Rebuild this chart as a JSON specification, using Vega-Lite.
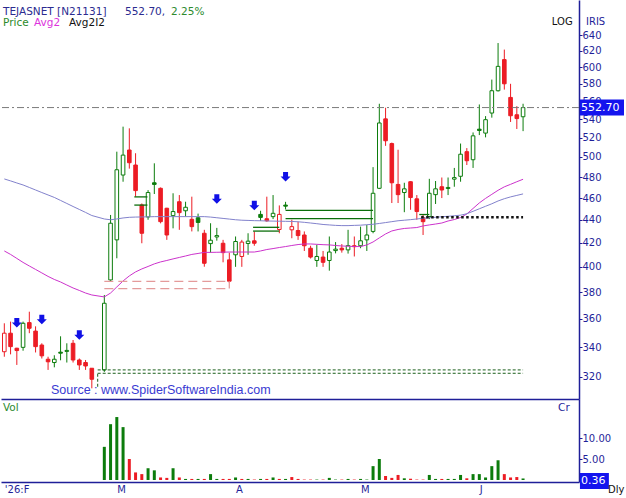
{
  "$schema": "https://vega.github.io/schema/vega-lite/v6.json",
  "padding": 0,
  "spacing": 0,
  "bounds": "flush",
  "config": {
    "view": {"stroke": null},
    "axis": {"grid": false, "domainColor": "#1f1f99", "tickColor": "#1f1f99", "labelColor": "#1f1f99", "labelFont": "DejaVu Sans", "labelFontSize": 10, "domainWidth": 1.5},
    "text": {"font": "DejaVu Sans"}
  },
  "datasets": {
    "candles": [
      {"i": 0, "o": 336.8, "h": 356.8, "l": 333.4, "c": 349.7, "v": 0, "m1": 413.2, "m2": 478.2},
      {"i": 1, "o": 349.7, "h": 358.0, "l": 335.0, "c": 340.3, "v": 0, "m1": 410.3, "m2": 476.3},
      {"i": 2, "o": 339.2, "h": 339.5, "l": 327.9, "c": 337.6, "v": 0, "m1": 407.0, "m2": 474.3},
      {"i": 3, "o": 339.8, "h": 358.0, "l": 337.5, "c": 356.8, "v": 0, "m1": 403.7, "m2": 472.4},
      {"i": 4, "o": 357.3, "h": 365.3, "l": 349.7, "c": 353.2, "v": 0, "m1": 400.8, "m2": 470.0},
      {"i": 5, "o": 351.2, "h": 354.6, "l": 336.3, "c": 340.3, "v": 0, "m1": 398.0, "m2": 467.6},
      {"i": 6, "o": 341.4, "h": 342.6, "l": 332.2, "c": 334.0, "v": 0, "m1": 395.2, "m2": 465.2},
      {"i": 7, "o": 331.7, "h": 333.4, "l": 324.6, "c": 330.0, "v": 0, "m1": 392.4, "m2": 462.9},
      {"i": 8, "o": 329.5, "h": 334.4, "l": 326.3, "c": 331.7, "v": 0, "m1": 390.0, "m2": 460.6},
      {"i": 9, "o": 336.5, "h": 347.5, "l": 331.0, "c": 335.8, "v": 0, "m1": 388.0, "m2": 457.8},
      {"i": 10, "o": 337.0, "h": 342.6, "l": 329.5, "c": 337.7, "v": 0, "m1": 385.6, "m2": 455.0},
      {"i": 11, "o": 342.6, "h": 344.9, "l": 329.5, "c": 331.2, "v": 0, "m1": 383.3, "m2": 452.2},
      {"i": 12, "o": 331.2, "h": 332.2, "l": 324.6, "c": 327.9, "v": 0, "m1": 381.4, "m2": 449.5},
      {"i": 13, "o": 329.5, "h": 331.2, "l": 324.6, "c": 327.2, "v": 0, "m1": 379.4, "m2": 446.8},
      {"i": 14, "o": 325.7, "h": 325.7, "l": 312.7, "c": 318.5, "v": 0, "m1": 377.9, "m2": 444.0},
      {"i": 16, "o": 324.6, "h": 377.9, "l": 323.3, "c": 371.6, "v": 7.9, "m1": 376.4, "m2": 440.9},
      {"i": 17, "o": 389.6, "h": 444.5, "l": 388.6, "c": 437.1, "v": 13.3, "m1": 379.4, "m2": 440.2},
      {"i": 18, "o": 422.6, "h": 505.4, "l": 407.1, "c": 487.2, "v": 15.0, "m1": 384.1, "m2": 440.9},
      {"i": 19, "o": 482.0, "h": 531.7, "l": 475.5, "c": 501.9, "v": 12.6, "m1": 388.8, "m2": 441.8},
      {"i": 20, "o": 507.1, "h": 529.9, "l": 488.3, "c": 494.2, "v": 5.0, "m1": 392.8, "m2": 442.4},
      {"i": 21, "o": 491.9, "h": 503.8, "l": 461.3, "c": 467.0, "v": 1.8, "m1": 396.0, "m2": 442.6},
      {"i": 22, "o": 453.6, "h": 455.0, "l": 419.7, "c": 428.3, "v": 1.4, "m1": 398.4, "m2": 442.7},
      {"i": 23, "o": 442.7, "h": 467.5, "l": 440.2, "c": 465.2, "v": 2.8, "m1": 400.4, "m2": 442.8},
      {"i": 24, "o": 474.5, "h": 493.6, "l": 463.8, "c": 472.9, "v": 2.3, "m1": 402.5, "m2": 443.0},
      {"i": 25, "o": 469.2, "h": 470.0, "l": 437.0, "c": 438.5, "v": 0.6, "m1": 404.1, "m2": 443.0},
      {"i": 26, "o": 450.6, "h": 451.0, "l": 422.6, "c": 426.8, "v": 0.5, "m1": 405.3, "m2": 443.0},
      {"i": 27, "o": 443.9, "h": 464.5, "l": 432.6, "c": 447.6, "v": 2.8, "m1": 406.6, "m2": 443.0},
      {"i": 28, "o": 456.6, "h": 462.8, "l": 431.3, "c": 446.6, "v": 0.6, "m1": 407.8, "m2": 443.0},
      {"i": 29, "o": 448.3, "h": 456.6, "l": 443.1, "c": 451.5, "v": 0.25, "m1": 409.0, "m2": 443.0},
      {"i": 30, "o": 440.6, "h": 461.3, "l": 429.9, "c": 434.1, "v": 0.25, "m1": 410.3, "m2": 443.0},
      {"i": 31, "o": 442.0, "h": 445.7, "l": 429.9, "c": 437.8, "v": 0.25, "m1": 411.1, "m2": 443.0},
      {"i": 32, "o": 428.3, "h": 431.3, "l": 400.2, "c": 403.0, "v": 0.25, "m1": 412.0, "m2": 443.0},
      {"i": 33, "o": 419.4, "h": 437.1, "l": 411.8, "c": 422.3, "v": 1.4, "m1": 412.0, "m2": 442.6},
      {"i": 34, "o": 425.1, "h": 433.0, "l": 421.9, "c": 426.3, "v": 0.25, "m1": 412.1, "m2": 442.0},
      {"i": 35, "o": 419.7, "h": 422.6, "l": 403.8, "c": 411.8, "v": 0.25, "m1": 412.2, "m2": 441.4},
      {"i": 36, "o": 405.8, "h": 411.8, "l": 387.3, "c": 388.6, "v": 0.25, "m1": 412.3, "m2": 440.8},
      {"i": 37, "o": 410.0, "h": 425.5, "l": 400.1, "c": 421.2, "v": 0.6, "m1": 412.3, "m2": 440.2},
      {"i": 38, "o": 408.6, "h": 422.6, "l": 400.1, "c": 420.7, "v": 0.25, "m1": 412.3, "m2": 439.8},
      {"i": 39, "o": 419.5, "h": 428.3, "l": 410.0, "c": 421.5, "v": 0.25, "m1": 412.3, "m2": 439.6},
      {"i": 40, "o": 421.8, "h": 429.9, "l": 417.6, "c": 419.7, "v": 0.1, "m1": 412.3, "m2": 439.4},
      {"i": 41, "o": 445.0, "h": 448.3, "l": 439.3, "c": 442.3, "v": 0.25, "m1": 413.2, "m2": 439.3},
      {"i": 42, "o": 441.1, "h": 461.3, "l": 438.4, "c": 439.3, "v": 0.25, "m1": 414.4, "m2": 439.1},
      {"i": 43, "o": 443.0, "h": 462.8, "l": 440.8, "c": 446.0, "v": 0.6, "m1": 415.2, "m2": 439.0},
      {"i": 44, "o": 431.6, "h": 453.2, "l": 428.3, "c": 445.0, "v": 0.25, "m1": 416.1, "m2": 438.9},
      {"i": 45, "o": 453.5, "h": 456.5, "l": 449.5, "c": 452.5, "v": 0.25, "m1": 416.9, "m2": 438.8},
      {"i": 46, "o": 431.3, "h": 440.2, "l": 424.0, "c": 434.1, "v": 0.7, "m1": 417.8, "m2": 438.7},
      {"i": 47, "o": 430.7, "h": 438.5, "l": 422.6, "c": 426.3, "v": 0.25, "m1": 418.6, "m2": 438.4},
      {"i": 48, "o": 426.8, "h": 429.9, "l": 413.2, "c": 417.6, "v": 0.1, "m1": 419.1, "m2": 437.9},
      {"i": 49, "o": 415.5, "h": 417.6, "l": 406.9, "c": 408.1, "v": 0.1, "m1": 419.1, "m2": 437.3},
      {"i": 50, "o": 405.3, "h": 418.5, "l": 400.1, "c": 408.6, "v": 0.1, "m1": 418.8, "m2": 436.7},
      {"i": 51, "o": 408.1, "h": 413.2, "l": 400.1, "c": 403.8, "v": 0.1, "m1": 418.5, "m2": 436.0},
      {"i": 52, "o": 405.3, "h": 425.5, "l": 397.0, "c": 412.3, "v": 0.5, "m1": 418.3, "m2": 435.6},
      {"i": 53, "o": 413.5, "h": 420.7, "l": 411.2, "c": 414.7, "v": 0.1, "m1": 417.8, "m2": 435.2},
      {"i": 54, "o": 415.5, "h": 419.0, "l": 411.8, "c": 414.1, "v": 0.1, "m1": 417.4, "m2": 435.0},
      {"i": 55, "o": 414.1, "h": 431.3, "l": 411.0, "c": 417.7, "v": 0.25, "m1": 417.2, "m2": 435.0},
      {"i": 56, "o": 417.6, "h": 425.5, "l": 408.6, "c": 416.8, "v": 0.1, "m1": 416.9, "m2": 435.2},
      {"i": 57, "o": 417.6, "h": 434.1, "l": 415.5, "c": 421.8, "v": 0.25, "m1": 416.9, "m2": 435.4},
      {"i": 58, "o": 422.6, "h": 435.6, "l": 413.2, "c": 426.8, "v": 0.1, "m1": 418.3, "m2": 435.8},
      {"i": 59, "o": 429.9, "h": 489.8, "l": 428.3, "c": 464.5, "v": 3.3, "m1": 420.8, "m2": 436.2},
      {"i": 60, "o": 469.2, "h": 557.0, "l": 468.5, "c": 535.7, "v": 5.0, "m1": 424.3, "m2": 436.9},
      {"i": 61, "o": 540.2, "h": 552.5, "l": 511.4, "c": 516.7, "v": 0.95, "m1": 427.7, "m2": 437.7},
      {"i": 62, "o": 513.8, "h": 514.8, "l": 455.4, "c": 474.5, "v": 0.5, "m1": 430.3, "m2": 438.5},
      {"i": 63, "o": 472.9, "h": 507.4, "l": 455.4, "c": 463.2, "v": 1.2, "m1": 431.6, "m2": 439.3},
      {"i": 64, "o": 465.2, "h": 474.5, "l": 447.0, "c": 468.7, "v": 0.4, "m1": 432.5, "m2": 439.8},
      {"i": 65, "o": 475.5, "h": 476.0, "l": 449.2, "c": 460.5, "v": 0.3, "m1": 432.9, "m2": 440.3},
      {"i": 66, "o": 459.3, "h": 462.8, "l": 440.2, "c": 447.6, "v": 0.1, "m1": 433.3, "m2": 440.9},
      {"i": 67, "o": 442.0, "h": 445.0, "l": 426.8, "c": 438.5, "v": 0.1, "m1": 434.7, "m2": 441.5},
      {"i": 68, "o": 443.1, "h": 478.3, "l": 440.8, "c": 464.5, "v": 1.2, "m1": 435.6, "m2": 442.0},
      {"i": 69, "o": 463.2, "h": 476.2, "l": 454.5, "c": 468.7, "v": 0.25, "m1": 436.4, "m2": 442.4},
      {"i": 70, "o": 470.7, "h": 479.6, "l": 460.0, "c": 467.6, "v": 0.25, "m1": 437.3, "m2": 442.9},
      {"i": 71, "o": 469.0, "h": 479.6, "l": 462.8, "c": 470.0, "v": 0.25, "m1": 439.1, "m2": 443.3},
      {"i": 72, "o": 478.0, "h": 489.0, "l": 470.7, "c": 479.5, "v": 0.25, "m1": 440.4, "m2": 443.8},
      {"i": 73, "o": 480.8, "h": 513.8, "l": 475.5, "c": 502.8, "v": 1.2, "m1": 442.2, "m2": 444.3},
      {"i": 74, "o": 505.4, "h": 509.1, "l": 491.9, "c": 496.2, "v": 0.4, "m1": 445.4, "m2": 445.6},
      {"i": 75, "o": 497.2, "h": 525.5, "l": 489.0, "c": 521.9, "v": 1.4, "m1": 450.4, "m2": 447.8},
      {"i": 76, "o": 529.0, "h": 556.2, "l": 522.7, "c": 527.6, "v": 1.4, "m1": 455.5, "m2": 450.1},
      {"i": 77, "o": 524.8, "h": 543.2, "l": 520.3, "c": 539.3, "v": 0.6, "m1": 459.7, "m2": 452.4},
      {"i": 78, "o": 546.6, "h": 585.0, "l": 541.5, "c": 571.9, "v": 3.3, "m1": 463.5, "m2": 454.7},
      {"i": 79, "o": 571.9, "h": 630.0, "l": 571.0, "c": 600.9, "v": 4.7, "m1": 467.3, "m2": 457.3},
      {"i": 80, "o": 609.2, "h": 621.7, "l": 573.2, "c": 580.0, "v": 1.4, "m1": 470.6, "m2": 459.4},
      {"i": 81, "o": 564.2, "h": 580.0, "l": 536.8, "c": 543.6, "v": 0.6, "m1": 473.0, "m2": 461.1},
      {"i": 82, "o": 544.7, "h": 554.3, "l": 529.2, "c": 540.5, "v": 0.7, "m1": 475.5, "m2": 462.5},
      {"i": 83, "o": 542.5, "h": 557.0, "l": 526.9, "c": 552.7, "v": 0.36, "m1": 477.9, "m2": 463.9}
    ],
    "signals": [
      {"i": 2, "p": 357.0},
      {"i": 6, "p": 359.3},
      {"i": 12, "p": 348.3},
      {"i": 34, "p": 459.0},
      {"i": 40, "p": 452.9},
      {"i": 45, "p": 480.0}
    ],
    "greenBox": [
      {"i1": 20.8, "i2": 22.9, "p1": 461.1, "p2": 461.1},
      {"i1": 20.8, "i2": 22.9, "p1": 453.5, "p2": 453.5},
      {"i1": 39.8, "i2": 44, "p1": 433.5, "p2": 433.5},
      {"i1": 39.8, "i2": 44, "p1": 430.2, "p2": 430.2},
      {"i1": 45, "i2": 59, "p1": 448.6, "p2": 448.6},
      {"i1": 45, "i2": 59, "p1": 441.2, "p2": 441.2},
      {"i1": 66.4, "i2": 68, "p1": 444.9, "p2": 444.9}
    ],
    "pinkDash": [
      {"i1": 16, "i2": 36, "p1": 388.5, "p2": 388.5},
      {"i1": 16, "i2": 36, "p1": 382.8, "p2": 382.8},
      {"i1": 36, "i2": 36, "p1": 382.8, "p2": 388.5}
    ],
    "greenDash": [
      {"i1": 14.94, "i2": 83, "p1": 324.6, "p2": 324.6},
      {"i1": 14.94, "i2": 83, "p1": 322.4, "p2": 322.4},
      {"i1": 14.94, "i2": 14.94, "p1": 313.7, "p2": 322.4}
    ],
    "blackDot": [
      {"i1": 66.7, "i2": 83, "p1": 442.4, "p2": 442.4}
    ]
  },
  "vconcat": [
    {
      "width": 578,
      "height": 399,
      "data": {"name": "candles"},
      "layer": [
        {
          "transform": [{"window": [{"op": "lag", "field": "c", "as": "pc"}], "sort": [{"field": "i", "order": "ascending"}]}],
          "mark": {"type": "rule", "strokeWidth": 1},
          "encoding": {
            "x": {"field": "i", "type": "quantitative", "title": null, "scale": {"domain": [-0.53, 91.95], "nice": false, "zero": false, "padding": 0}, "axis": {"orient": "bottom", "labels": false, "ticks": false, "title": null}},
            "y": {"field": "l", "type": "quantitative", "title": null, "scale": {"type": "log", "domain": [306.0, 687.5], "nice": false, "zero": false, "padding": 0}, "axis": {"orient": "right", "values": [320, 340, 360, 380, 400, 420, 440, 460, 480, 500, 520, 540, 560, 580, 600, 620, 640], "format": "d", "tickSize": 3, "labelPadding": 0, "labelOverlap": false, "labelFlush": false, "title": null}},
            "y2": {"field": "h"},
            "stroke": {"condition": {"test": "datum.pc != null && datum.c >= datum.pc", "value": "#0c7c0c"}, "value": "#ec1c24"}
          }
        },
        {
          "transform": [{"window": [{"op": "lag", "field": "c", "as": "pc"}], "sort": [{"field": "i", "order": "ascending"}]}],
          "mark": {"type": "bar", "width": 3.6, "strokeWidth": 1},
          "encoding": {
            "x": {"field": "i", "type": "quantitative", "title": null},
            "y": {"field": "o", "type": "quantitative", "title": null},
            "y2": {"field": "c"},
            "stroke": {"condition": {"test": "datum.pc != null && datum.c >= datum.pc", "value": "#0c7c0c"}, "value": "#ec1c24"},
            "fill": {"condition": [{"test": "datum.c > datum.o", "value": "#ffffff"}, {"test": "datum.pc != null && datum.c >= datum.pc", "value": "#0c7c0c"}], "value": "#ec1c24"}
          }
        },
        {
          "mark": {"type": "line", "color": "#cc33cc", "strokeWidth": 1},
          "encoding": {
            "x": {"field": "i", "type": "quantitative", "title": null},
            "y": {"field": "m1", "type": "quantitative", "title": null}
          }
        },
        {
          "mark": {"type": "line", "color": "#8282cc", "strokeWidth": 1},
          "encoding": {
            "x": {"field": "i", "type": "quantitative", "title": null},
            "y": {"field": "m2", "type": "quantitative", "title": null}
          }
        },
        {
          "data": {"name": "greenBox"},
          "mark": {"type": "rule", "color": "#0b6e0b", "strokeWidth": 1.3},
          "encoding": {
            "x": {"field": "i1", "type": "quantitative", "title": null},
            "x2": {"field": "i2"},
            "y": {"field": "p1", "type": "quantitative", "title": null},
            "y2": {"field": "p2"}
          }
        },
        {
          "data": {"name": "pinkDash"},
          "mark": {"type": "rule", "color": "#e49a9a", "strokeWidth": 1.3, "strokeDash": [9, 5]},
          "encoding": {
            "x": {"field": "i1", "type": "quantitative", "title": null},
            "x2": {"field": "i2"},
            "y": {"field": "p1", "type": "quantitative", "title": null},
            "y2": {"field": "p2"}
          }
        },
        {
          "data": {"name": "greenDash"},
          "mark": {"type": "rule", "color": "#1a5e1a", "strokeWidth": 1, "strokeDash": [3, 2]},
          "encoding": {
            "x": {"field": "i1", "type": "quantitative", "title": null},
            "x2": {"field": "i2"},
            "y": {"field": "p1", "type": "quantitative", "title": null},
            "y2": {"field": "p2"}
          }
        },
        {
          "data": {"name": "blackDot"},
          "mark": {"type": "rule", "color": "#111111", "strokeWidth": 2.5, "strokeDash": [2.5, 2.5]},
          "encoding": {
            "x": {"field": "i1", "type": "quantitative", "title": null},
            "x2": {"field": "i2"},
            "y": {"field": "p1", "type": "quantitative", "title": null},
            "y2": {"field": "p2"}
          }
        },
        {
          "transform": [{"filter": "datum.i == 83"}],
          "mark": {"type": "rule", "color": "#7a7a7a", "strokeWidth": 1, "strokeDash": [7, 3, 2, 3]},
          "encoding": {
            "y": {"field": "c", "type": "quantitative", "title": null}
          }
        },
        {
          "data": {"name": "signals"},
          "mark": {"type": "point", "shape": "M-0.5,-1L0.5,-1L0.5,-0.1L1,-0.1L0,0.9L-1,-0.1L-0.5,-0.1Z", "size": 100, "filled": true, "color": "#1010e6", "opacity": 1, "strokeWidth": 0},
          "encoding": {
            "x": {"field": "i", "type": "quantitative", "title": null},
            "y": {"field": "p", "type": "quantitative", "title": null}
          }
        },
        {
          "transform": [{"filter": "datum.i == 83"}],
          "mark": {"type": "point", "shape": "M0,-0.37L2.04,-0.37L2.04,0.37L0,0.37Z", "size": 1866, "filled": true, "color": "#1414ee", "opacity": 1, "strokeWidth": 0},
          "encoding": {
            "x": {"datum": 92.1, "type": "quantitative"},
            "y": {"field": "c", "type": "quantitative", "title": null}
          }
        },
        {
          "transform": [{"filter": "datum.i == 83"}],
          "mark": {"type": "text", "align": "left", "baseline": "middle", "color": "#ffffff", "fontSize": 11, "dx": 1},
          "encoding": {
            "x": {"datum": 92.1, "type": "quantitative"},
            "y": {"field": "c", "type": "quantitative", "title": null},
            "text": {"field": "c", "type": "quantitative", "format": ".2f"}
          }
        },
        {
          "data": {"values": [{}]},
          "mark": {"type": "text", "text": "TEJASNET [N21131]", "align": "left", "baseline": "middle", "fontSize": 10.5, "color": "#2b2b90"},
          "encoding": {"x": {"datum": -0.21, "type": "quantitative"}, "y": {"datum": 671.5, "type": "quantitative"}}
        },
        {
          "data": {"values": [{}]},
          "mark": {"type": "text", "text": "552.70,", "align": "left", "baseline": "middle", "fontSize": 10.5, "color": "#2b2b90"},
          "encoding": {"x": {"datum": 19.31, "type": "quantitative"}, "y": {"datum": 671.5, "type": "quantitative"}}
        },
        {
          "data": {"values": [{}]},
          "mark": {"type": "text", "text": "2.25%", "align": "left", "baseline": "middle", "fontSize": 10.5, "color": "#2e8b2e"},
          "encoding": {"x": {"datum": 26.67, "type": "quantitative"}, "y": {"datum": 671.5, "type": "quantitative"}}
        },
        {
          "data": {"values": [{}]},
          "mark": {"type": "text", "text": "Price", "align": "left", "baseline": "middle", "fontSize": 10.5, "color": "#2a8a2a"},
          "encoding": {"x": {"datum": -0.21, "type": "quantitative"}, "y": {"datum": 655.5, "type": "quantitative"}}
        },
        {
          "data": {"values": [{}]},
          "mark": {"type": "text", "text": "Avg2", "align": "left", "baseline": "middle", "fontSize": 10.5, "color": "#dd33dd"},
          "encoding": {"x": {"datum": 4.75, "type": "quantitative"}, "y": {"datum": 655.5, "type": "quantitative"}}
        },
        {
          "data": {"values": [{}]},
          "mark": {"type": "text", "text": "Avg2I2", "align": "left", "baseline": "middle", "fontSize": 10.5, "color": "#111111"},
          "encoding": {"x": {"datum": 10.35, "type": "quantitative"}, "y": {"datum": 655.5, "type": "quantitative"}}
        },
        {
          "data": {"values": [{}]},
          "mark": {"type": "text", "text": "LOG", "align": "left", "baseline": "middle", "fontSize": 10, "color": "#111111"},
          "encoding": {"x": {"datum": 87.6, "type": "quantitative"}, "y": {"datum": 657.5, "type": "quantitative"}}
        },
        {
          "data": {"values": [{}]},
          "mark": {"type": "text", "text": "IRIS", "align": "left", "baseline": "middle", "fontSize": 10, "color": "#1f1f99"},
          "encoding": {"x": {"datum": 93.07, "type": "quantitative"}, "y": {"datum": 657.5, "type": "quantitative"}}
        },
        {
          "data": {"values": [{}]},
          "mark": {"type": "text", "text": "Source : www.SpiderSoftwareIndia.com", "align": "left", "baseline": "middle", "font": "Liberation Sans", "fontSize": 12.5, "color": "#3a3ad2"},
          "encoding": {"x": {"datum": 7.47, "type": "quantitative"}, "y": {"datum": 311.7, "type": "quantitative"}}
        }
      ]
    },
    {
      "width": 578,
      "height": 83,
      "data": {"name": "candles"},
      "layer": [
        {
          "transform": [{"window": [{"op": "lag", "field": "c", "as": "pc"}], "sort": [{"field": "i", "order": "ascending"}]}],
          "mark": {"type": "bar", "width": 3},
          "encoding": {
            "x": {"field": "i", "type": "quantitative", "title": null, "scale": {"domain": [-0.53, 91.95], "nice": false, "zero": false, "padding": 0},
              "axis": {"orient": "bottom", "values": [0, 18, 37, 57, 76], "labelExpr": "datum.value == 0 ? \"'26:F\" : datum.value == 18 ? 'M' : datum.value == 37 ? 'A' : datum.value == 57 ? 'M' : 'J'", "labelAlign": "left", "labelBaseline": "top", "labelPadding": 2, "ticks": false, "labelFlush": false, "labelOverlap": false, "title": null}},
            "y": {"field": "v", "type": "quantitative", "title": null, "scale": {"domain": [-0.48, 19.3], "nice": false, "zero": false, "padding": 0}, "axis": {"orient": "right", "values": [5, 10], "format": ".2f", "tickSize": 3, "labelPadding": 0, "labelFlush": false, "title": null}},
            "y2": {"datum": 0},
            "color": {"condition": {"test": "datum.pc != null && datum.c >= datum.pc", "value": "#0c7c0c"}, "value": "#ec1c24"}
          }
        },
        {
          "data": {"values": [{}]},
          "mark": {"type": "text", "text": "Vol", "align": "left", "baseline": "middle", "fontSize": 10.5, "color": "#2e8b2e"},
          "encoding": {"x": {"datum": -0.21, "type": "quantitative"}, "y": {"datum": 17.1, "type": "quantitative"}}
        },
        {
          "data": {"values": [{}]},
          "mark": {"type": "text", "text": "Cr", "align": "left", "baseline": "middle", "fontSize": 10.5, "color": "#1f1f99"},
          "encoding": {"x": {"datum": 88.6, "type": "quantitative"}, "y": {"datum": 17.1, "type": "quantitative"}}
        },
        {
          "transform": [{"filter": "datum.i == 83"}],
          "mark": {"type": "point", "shape": "M0,-0.37L1.34,-0.37L1.34,0.37L0,0.37Z", "size": 1866, "filled": true, "color": "#1414ee", "opacity": 1, "strokeWidth": 0},
          "encoding": {"x": {"datum": 92.1, "type": "quantitative"}, "y": {"datum": -0.24, "type": "quantitative"}}
        },
        {
          "transform": [{"filter": "datum.i == 83"}],
          "mark": {"type": "text", "align": "left", "baseline": "middle", "color": "#ffffff", "fontSize": 11, "dx": 1},
          "encoding": {
            "x": {"datum": 92.1, "type": "quantitative"},
            "y": {"datum": -0.24, "type": "quantitative"},
            "text": {"field": "v", "type": "quantitative", "format": ".2f"}
          }
        },
        {
          "data": {"values": [{}]},
          "mark": {"type": "text", "text": "Dly", "align": "left", "baseline": "middle", "fontSize": 10, "color": "#111111"},
          "encoding": {"x": {"datum": 96.6, "type": "quantitative"}, "y": {"datum": -2.4, "type": "quantitative"}}
        }
      ]
    }
  ]
}
